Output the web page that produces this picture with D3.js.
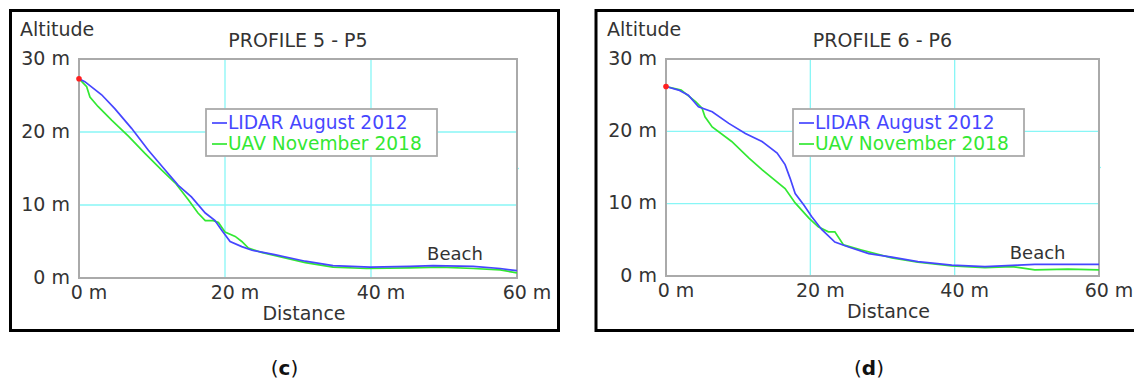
<!DOCTYPE html>
<html>
<head>
<meta charset="utf-8">
<script src="https://cdn.jsdelivr.net/npm/d3@7/dist/d3.min.js"></script>
<style>
  html, body { margin: 0; padding: 0; background: #fff; }
  svg { display: block; }
  text { font-family: "DejaVu Sans", Verdana, sans-serif; }
</style>
</head>
<body>
<svg id="chart" width="1134" height="382"></svg>
<script>
// Tick values shared by both profiles
const distanceTicks = [0, 20, 40, 60];
const altitudeTicks = [0, 10, 20, 30];
const seriesNames = ["LIDAR August 2012", "UAV November 2018"];

// Profile 5: [distance m, altitude m]
const p5Lidar = [[0,27.3],[0.8,26.9],[3.1,25.1],[4.9,23.2],[7.2,20.5],[9.5,17.5],[11.8,14.8],[13.6,12.7],[15.4,11.1],[17.3,8.9],[18.6,7.9],[19.5,6.6],[20.7,5.0],[22.3,4.3],[23.7,3.8],[26.8,3.2],[31.0,2.3],[34.8,1.7],[39.9,1.5],[45.3,1.6],[48.5,1.7],[54.0,1.6],[57.7,1.3],[60,1.0]];
const p5Uav = [[0,27.3],[1.05,26.2],[1.5,24.8],[2.6,23.5],[4.5,21.6],[6.8,19.4],[9.0,17.1],[11.3,14.8],[13.2,13.0],[15.0,10.7],[16.3,8.9],[17.3,7.85],[18.4,7.85],[19.1,7.6],[20.0,6.3],[21.4,5.7],[22.3,5.0],[23.2,4.1],[25.0,3.5],[31.0,2.1],[34.8,1.5],[39.4,1.3],[45.3,1.4],[49.5,1.5],[54,1.3],[57.7,1.1],[60,0.7]];

// Profile 6: [distance m, altitude m]
const p6Lidar = [[0,26.2],[1.75,25.7],[3.1,25.0],[4.5,23.4],[6.4,22.7],[8.7,21.1],[11.0,19.7],[13.3,18.6],[15.4,17.0],[16.5,15.4],[17.2,13.5],[17.9,11.4],[19.1,9.8],[20.2,8.2],[21.6,6.4],[23.4,4.7],[25.3,4.0],[28.1,3.1],[31.3,2.6],[34.9,2.0],[39.6,1.5],[44.2,1.3],[48.8,1.5],[51.1,1.6],[60,1.6]];
const p6Uav = [[0,26.2],[2.1,25.7],[4.1,24.1],[5.0,23.2],[5.4,22.0],[6.4,20.6],[9.1,18.6],[11.5,16.3],[13.3,14.7],[16.5,12.1],[17.9,10.1],[19.8,8.0],[21.1,6.8],[22.5,6.1],[23.4,6.1],[24.6,4.3],[27.1,3.6],[31.3,2.5],[34.9,1.9],[39.6,1.4],[44.2,1.15],[47.9,1.3],[49.7,1.05],[51.1,0.85],[55.7,0.95],[60,0.85]];

const panels = [
  { title: "PROFILE 5 - P5", caption: "c", lidar: p5Lidar, uav: p5Uav,
    frame: { x0: 10.5, y0: 10.5, x1: 558.5, y1: 330.5 },
    plot: { left: 79, top: 59, right: 517, bottom: 278 } },
  { title: "PROFILE 6 - P6", caption: "d", lidar: p6Lidar, uav: p6Uav,
    frame: { x0: 596, y0: 10.5, x1: 1142, y1: 330.5 },
    plot: { left: 666, top: 59, right: 1099, bottom: 276 } }
];

const colors = { lidar: "#4646ff", uav: "#33e833", grid: "#88f6f6", text: "#333", frame: "#aaaaaa" };
const svg = d3.select("#chart");

panels.forEach(p => {
  const g = svg.append("g");
  const x = d3.scaleLinear().domain([0, 60]).range([p.plot.left, p.plot.right]);
  const y = d3.scaleLinear().domain([0, 30]).range([p.plot.bottom, p.plot.top]);

  // outer black frame
  g.append("rect")
    .attr("x", p.frame.x0).attr("y", p.frame.y0)
    .attr("width", p.frame.x1 - p.frame.x0).attr("height", p.frame.y1 - p.frame.y0)
    .attr("fill", "#fff").attr("stroke", "#000").attr("stroke-width", 3);

  // grid lines
  g.append("g").selectAll("line.v").data(distanceTicks.slice(1, -1)).join("line")
    .attr("x1", d => x(d)).attr("x2", d => x(d))
    .attr("y1", p.plot.top).attr("y2", p.plot.bottom)
    .attr("stroke", colors.grid).attr("stroke-width", 1.3);
  g.append("g").selectAll("line.h").data(altitudeTicks.slice(1, -1)).join("line")
    .attr("x1", p.plot.left).attr("x2", p.plot.right)
    .attr("y1", d => y(d)).attr("y2", d => y(d))
    .attr("stroke", colors.grid).attr("stroke-width", 1.3);
  // small minor mark on the right edge
  g.append("line")
    .attr("x1", p.plot.right - 1).attr("x2", p.plot.right + 2)
    .attr("y1", y(15)).attr("y2", y(15))
    .attr("stroke", colors.grid).attr("stroke-width", 1.3);

  // plot border
  g.append("rect")
    .attr("x", p.plot.left).attr("y", p.plot.top)
    .attr("width", p.plot.right - p.plot.left).attr("height", p.plot.bottom - p.plot.top)
    .attr("fill", "none").attr("stroke", colors.frame).attr("stroke-width", 2);

  // axis tick labels
  g.append("g").selectAll("text").data(altitudeTicks).join("text")
    .attr("x", p.plot.left - 9).attr("y", d => y(d) + 5.5)
    .attr("text-anchor", "end").attr("font-size", 19).attr("fill", colors.text)
    .text(d => d + " m");
  g.append("g").selectAll("text").data(distanceTicks).join("text")
    .attr("x", d => x(d) + 10).attr("y", p.plot.bottom + 21)
    .attr("text-anchor", "middle").attr("font-size", 19).attr("fill", colors.text)
    .text(d => d + " m");

  // axis titles and chart title
  g.append("text").attr("x", p.plot.left - 59).attr("y", 36)
    .attr("font-size", 19).attr("fill", colors.text).text("Altitude");
  g.append("text").attr("x", (p.plot.left + p.plot.right) / 2 + 6).attr("y", p.plot.bottom + 41.5)
    .attr("text-anchor", "middle").attr("font-size", 19).attr("fill", colors.text).text("Distance");
  g.append("text").attr("x", (p.plot.left + p.plot.right) / 2).attr("y", 47)
    .attr("text-anchor", "middle").attr("font-size", 19).attr("fill", colors.text).text(p.title);

  // profile lines
  const line = d3.line().x(d => x(d[0])).y(d => y(d[1])).curve(d3.curveLinear);
  g.append("path").datum(p.uav).attr("d", line)
    .attr("fill", "none").attr("stroke", colors.uav).attr("stroke-width", 1.7);
  g.append("path").datum(p.lidar).attr("d", line)
    .attr("fill", "none").attr("stroke", colors.lidar).attr("stroke-width", 1.7);

  // start point
  g.append("circle").attr("cx", x(p.lidar[0][0])).attr("cy", y(p.lidar[0][1]))
    .attr("r", 2.8).attr("fill", "#ff2020");

  // beach annotation
  g.append("text").attr("x", x(51.5)).attr("y", y(2.4))
    .attr("text-anchor", "middle").attr("font-size", 18).attr("fill", colors.text).text("Beach");

  // legend
  const lg = g.append("g").attr("transform", `translate(${p.plot.left + 127},${p.plot.top + 50})`);
  lg.append("rect").attr("x", 0).attr("y", 0).attr("width", 231).attr("height", 47)
    .attr("fill", "#fff").attr("stroke", colors.frame).attr("stroke-width", 1.8);
  const legendColors = [colors.lidar, colors.uav];
  seriesNames.forEach((name, i) => {
    lg.append("line").attr("x1", 6).attr("x2", 21)
      .attr("y1", 14 + i * 21).attr("y2", 14 + i * 21)
      .attr("stroke", legendColors[i]).attr("stroke-width", 1.7);
    lg.append("text").attr("x", 22).attr("y", 20 + i * 21)
      .attr("font-size", 18.6).attr("fill", legendColors[i]).text(name);
  });

  // caption
  const cap = svg.append("text")
    .attr("x", (p.frame.x0 + p.frame.x1) / 2).attr("y", 375)
    .attr("text-anchor", "middle").attr("font-size", 20)
    .attr("font-family", "'Liberation Serif', 'DejaVu Serif', serif").attr("fill", "#111");
  cap.append("tspan").text("(");
  cap.append("tspan").attr("font-weight", "bold").text(p.caption);
  cap.append("tspan").text(")");
});
</script>
</body>
</html>
